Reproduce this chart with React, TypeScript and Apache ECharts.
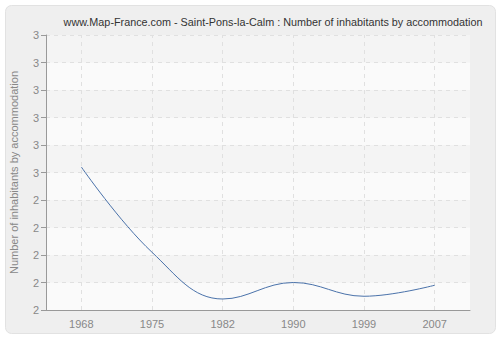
import React, { useEffect, useRef } from "react";
import * as echarts from "echarts";

const years = ["1968", "1975", "1982", "1990", "1999", "2007"];
const values = [2.52, 2.21, 2.04, 2.1, 2.05, 2.09];
const titleText = "www.Map-France.com - Saint-Pons-la-Calm : Number of inhabitants by accommodation";
const yAxisName = "Number of inhabitants by accommodation";

export default function App() {
  const ref = useRef<HTMLDivElement>(null);
  useEffect(() => {
    const chart = echarts.init(ref.current!, null, { renderer: "svg" });
    chart.setOption({
      animation: false,
      backgroundColor: "#ffffff",
      graphic: [
        {
          type: "rect",
          left: 5,
          top: 5,
          shape: { width: 490, height: 328, r: 6 },
          style: { fill: "#efefef", stroke: "#e2e2e2", lineWidth: 1 },
          z: -10,
        },
      ],
      title: {
        text: titleText,
        left: 268,
        top: 11,
        textAlign: "center",
        textStyle: { fontFamily: "Liberation Sans, Arial, sans-serif", fontSize: 10.8, fontWeight: "normal", color: "#333" },
      },
      grid: { left: 41, right: 30, top: 35, bottom: 30, show: true, backgroundColor: "#f9f9f9", borderWidth: 0 },
      xAxis: {
        type: "category",
        data: years,
        boundaryGap: true,
        axisLine: { lineStyle: { color: "#999" } },
        axisTick: { alignWithLabel: true, length: 5, lineStyle: { color: "#999" } },
        axisLabel: { color: "#888", fontSize: 11, fontFamily: "Liberation Sans, Arial, sans-serif", margin: 8 },
        splitLine: { show: false },
      },
      yAxis: {
        type: "value",
        min: 2,
        max: 3,
        interval: 0.1,
        name: yAxisName,
        nameLocation: "middle",
        nameGap: 27,
        nameTextStyle: { color: "#888", fontSize: 11, fontFamily: "Liberation Sans, Arial, sans-serif" },
        axisLine: { show: true, lineStyle: { color: "#999" } },
        axisTick: { show: true, length: 5, lineStyle: { color: "#999" } },
        axisLabel: {
          color: "#888",
          fontSize: 11,
          fontFamily: "Liberation Sans, Arial, sans-serif",
          margin: 7,
          formatter: (v: number) => String(Math.round(v)),
        },
        splitLine: { show: true, lineStyle: { color: "#e0e0e0", type: [4, 4] } },
        splitArea: { show: true, areaStyle: { color: ["#fafafa", "#f4f4f4"] } },
      },
      series: [
        {
          type: "line",
          data: values,
          smooth: 0.4,
          showSymbol: false,
          lineStyle: { color: "#4a72aa", width: 1 },
          z: 3,
          markLine: {
            silent: true,
            symbol: "none",
            label: { show: false },
            lineStyle: { color: "#e0e0e0", type: [4, 4], width: 1 },
            emphasis: { disabled: true },
            z: 1,
            data: years.map((y) => ({ xAxis: y })),
          },
        },
      ],
    });
    return () => chart.dispose();
  }, []);
  return <div ref={ref} style={{ position: "fixed", left: 0, top: 0, width: 500, height: 340 }} />;
}
